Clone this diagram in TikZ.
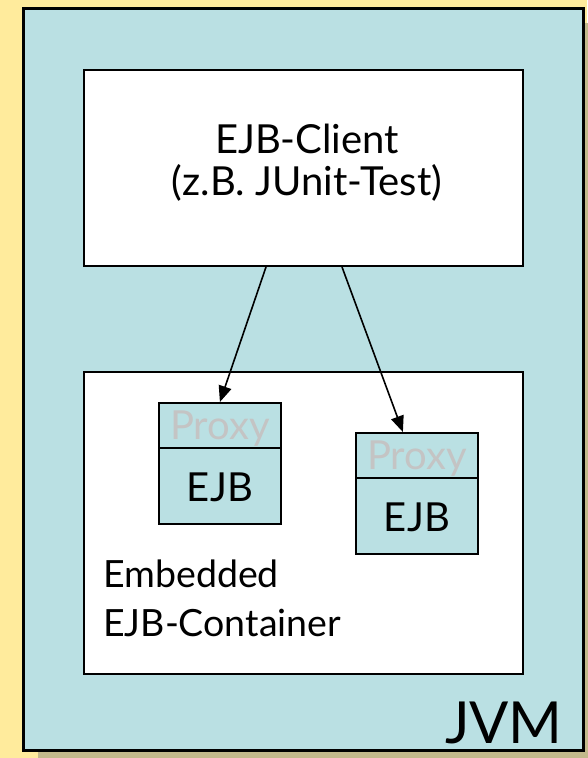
\documentclass[tikz,border=0pt]{standalone}
\usepackage{fontspec}
\setmainfont{Lato}
\usetikzlibrary{arrows.meta}
\definecolor{slidebg}{HTML}{FFEB9C}
\definecolor{slideshadow}{HTML}{C3B98B}
\definecolor{jvmfill}{HTML}{BAE0E3}
\definecolor{proxygrey}{HTML}{C4C4C4}
\tikzset{
  box/.style={draw=black, line width=2pt, fill=white, inner sep=0pt, anchor=north west},
  cell/.style={draw=black, line width=1.8pt, fill=jvmfill, inner sep=0pt, anchor=north west, minimum width=122pt},
  label/.style={font=\fontsize{40}{45}\selectfont, inner sep=0pt},
  caption/.style={font=\fontsize{37.5}{45}\selectfont, inner sep=0pt, anchor=base west},
  call/.style={draw=black, line width=1.6pt, -{Triangle[length=16pt, width=13pt]}}
}
\begin{document}
\begin{tikzpicture}[x=1pt, y=-1pt]
  \useasboundingbox (0,0) rectangle (587,758);
  % slide background
  \fill[slidebg] (0,0) rectangle (587,758);
  % JVM frame with its drop shadow
  \fill[slideshadow] (38,23) rectangle (598,765);
  \node[box, fill=jvmfill, line width=2.5pt, minimum width=560pt, minimum height=742pt] (jvm) at (22,7) {};
  \node[font=\fontsize{58}{70}\selectfont, inner sep=0pt, anchor=base east] (jvmlabel) at (563,743) {JVM};
  % client
  \node[box, minimum width=439pt, minimum height=196pt] (client) at (83,69) {};
  \node[label, anchor=base] (clientname) at (307,153) {EJB-Client};
  \node[label, anchor=base] (clientnote) at (307,195) {(z.B. JUnit-Test)};
  % container
  \node[box, minimum width=439pt, minimum height=302pt] (container) at (83,371) {};
  \node[caption] (containername) at (103,587) {Embedded};
  \node[caption] (containerkind) at (103,636) {EJB-Container};
  % first bean with proxy
  \node[cell, minimum height=45pt] (proxy1) at (158,402) {};
  \node[cell, minimum height=76pt] (ejb1) at (158,447) {};
  \node[label, text=proxygrey, anchor=base] (proxy1text) at ([yshift=9pt]proxy1.south) {Proxy};
  \node[label, anchor=base] (ejb1text) at ([yshift=23pt]ejb1.south) {EJB};
  % second bean with proxy
  \node[cell, minimum height=45pt] (proxy2) at (355,432) {};
  \node[cell, minimum height=76pt] (ejb2) at (355,477) {};
  \node[label, text=proxygrey, anchor=base] (proxy2text) at ([yshift=9pt]proxy2.south) {Proxy};
  \node[label, anchor=base] (ejb2text) at ([yshift=23pt]ejb2.south) {EJB};
  % calls from the client to the proxies
  \draw[call] ([xshift=-37.5pt]client.south) -- (proxy1.north);
  \draw[call] ([xshift=38.5pt]client.south) -- ([xshift=-14pt]proxy2.north);
\end{tikzpicture}
\end{document}
